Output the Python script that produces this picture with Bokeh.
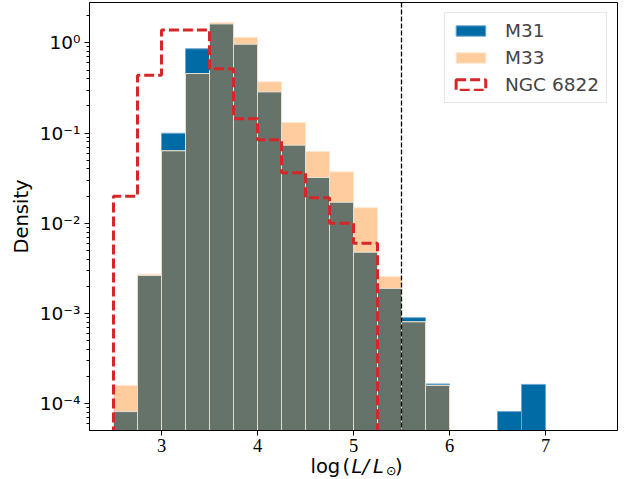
import numpy as np
from bokeh.plotting import figure
from bokeh.layouts import column
from bokeh.models import (ColumnDataSource, Range1d, FixedTicker,
                          CustomJSTickFormatter, Span, Label, LabelSet)
from bokeh.embed import file_html
from bokeh.resources import INLINE

# ---- data ----
bin_edges = [2.5, 2.75, 3.0, 3.25, 3.5, 3.75, 4.0, 4.25, 4.5, 4.75, 5.0,
             5.25, 5.5, 5.75, 6.0, 6.25, 6.5, 6.75, 7.0, 7.25, 7.5]
m31 = [8.2e-5, 0.00264, 0.0996, 0.86, 1.62, 0.965, 0.286, 0.0734, 0.0322,
       0.0171, 0.00478, 0.0019, 0.00090, 1.66e-4, 0, 0, 8.2e-5, 1.64e-4, 0, 0]
m33 = [1.6e-4, 0.00273, 0.0636, 0.457, 1.68, 1.15, 0.370, 0.131, 0.0625,
       0.0372, 0.0149, 0.00257, 0.00081, 1.6e-4, 0, 0, 0, 0, 0, 0]
ngc6822 = [0.0200, 0.438, 1.39, 1.39, 0.515, 0.144, 0.0842, 0.0363, 0.0192,
           0.0100, 0.0060, 0, 0, 0, 0, 0, 0, 0, 0, 0]
x_ticks = [3, 4, 5, 6, 7]
x_tick_labels = ["3", "4", "5", "6", "7"]
y_ticks = [1e-4, 1e-3, 1e-2, 1e-1, 1e0]
limit_line = 5.5

FONT = "DejaVu Sans"
BLUE = "#006BA4"
ORANGE = "#FFCC9E"
OVERLAP = "#65736A"
RED = "#D62728"

edges = np.array(bin_edges)
left, right = edges[:-1], edges[1:]
a31, a33, angc = np.array(m31), np.array(m33), np.array(ngc6822)
FLOOR = 1e-7

def bars(vals):
    mask = vals > 0
    return ColumnDataSource(dict(left=left[mask], right=right[mask],
                                 top=vals[mask],
                                 bottom=np.full(mask.sum(), FLOOR)))

both = (a31 > 0) & (a33 > 0)
overlap_vals = np.where(both, np.minimum(a31, a33), 0)

xr = Range1d(2.25, 7.75)
p = figure(width=632, height=436, y_axis_type="log",
           x_range=xr, y_range=Range1d(5.06e-5, 2.80),
           output_backend="svg", toolbar_location=None, title=None,
           min_border_left=89, min_border_right=15,
           min_border_top=2, min_border_bottom=6)
p.background_fill_color = "white"
p.border_fill_color = "white"
p.outline_line_color = "black"
p.outline_line_width = 1
p.xgrid.visible = False
p.ygrid.visible = False

p.quad(left="left", right="right", top="top", bottom="bottom", source=bars(a31),
       fill_color=BLUE, line_color="#6FA6D2", line_width=1, legend_label="M31")
p.quad(left="left", right="right", top="top", bottom="bottom", source=bars(a33),
       fill_color=ORANGE, line_color="#FFE6CE", line_width=1, legend_label="M33")
p.quad(left="left", right="right", top="top", bottom="bottom", source=bars(overlap_vals),
       fill_color=OVERLAP, line_color="#E4DED0", line_width=1)

# NGC 6822 step outline
nz = np.where(angc > 0)[0]
xs = [left[nz[0]]]
ys = [FLOOR]
for i in nz:
    xs += [left[i], right[i]]
    ys += [angc[i], angc[i]]
xs.append(right[nz[-1]])
ys.append(FLOOR)
p.patch(x=xs, y=ys, fill_alpha=0, line_color=RED, line_width=3,
        line_dash="10 4", legend_label="NGC 6822")

p.add_layout(Span(location=limit_line, dimension="height", line_color="black",
                  line_dash="5 2", line_width=1.3))

# axes
p.xaxis.ticker = FixedTicker(ticks=x_ticks, minor_ticks=[])
minor = [m * 10.0**k for k in range(-5, 1) for m in range(2, 10)]
p.yaxis.ticker = FixedTicker(ticks=y_ticks, minor_ticks=minor)
p.yaxis.formatter = CustomJSTickFormatter(code="""
const e = Math.round(Math.log10(tick));
const sup = {"-":"\u207b","0":"\u2070","1":"\u00b9","2":"\u00b2","3":"\u00b3",
             "4":"\u2074","5":"\u2075","6":"\u2076","7":"\u2077","8":"\u2078","9":"\u2079"};
return "10" + String(e).split("").map(c => sup[c]).join("");
""")
for ax in (p.xaxis[0], p.yaxis[0]):
    ax.major_label_text_font = FONT
    ax.major_label_text_font_size = "18.5px"
    ax.major_label_text_color = "black"
    ax.axis_line_color = "black"
    ax.axis_line_width = 1
    ax.major_tick_out = 5
    ax.major_tick_in = 0
    ax.minor_tick_out = 3
    ax.minor_tick_in = 0
    ax.major_tick_line_color = "black"
    ax.minor_tick_line_color = "black"
    ax.axis_label_text_font = FONT
    ax.axis_label_text_font_size = "19.5px"
    ax.axis_label_text_font_style = "normal"
    ax.axis_label_text_color = "black"
# x tick labels are drawn in the strip below (with the composed axis label)
p.xaxis.formatter = CustomJSTickFormatter(code="return '';")
p.xaxis.major_label_standoff = 0
p.yaxis.major_label_standoff = 4
p.yaxis.axis_label = "Density"
p.yaxis.axis_label_standoff = 4

leg = p.legend[0]
leg.location = "top_right"
leg.margin = 10
leg.padding = 7
leg.spacing = 6
leg.glyph_width = 37
leg.glyph_height = 13
leg.label_height = 21
leg.label_standoff = 16
leg.label_text_font = FONT
leg.label_text_font_size = "18.5px"
leg.border_line_color = "#CCCCCC"
leg.border_line_width = 1
leg.background_fill_alpha = 0.8

# strip below: x tick labels + composed x-axis label  log (L/L_sun)
p2 = figure(width=632, height=43, x_range=xr, y_range=Range1d(0, 1),
            x_axis_location=None, y_axis_location=None, title=None,
            output_backend="svg", toolbar_location=None,
            min_border_left=89, min_border_right=15,
            min_border_top=0, min_border_bottom=0)
p2.outline_line_color = None
p2.xgrid.visible = False
p2.ygrid.visible = False
p2.background_fill_color = "white"
p2.border_fill_color = "white"

tick_src = ColumnDataSource(dict(x=x_ticks, y=[28] * len(x_ticks), text=x_tick_labels))
p2.add_layout(LabelSet(x="x", y="y", text="text", source=tick_src,
                       x_units="data", y_units="screen", text_align="center",
                       text_baseline="alphabetic", text_font=FONT,
                       text_font_size="18.5px", text_color="black"))

def lab(txt, x, y, size="19.5px", style="normal"):
    # x: px from the frame's left edge, y: px above the strip's bottom
    p2.add_layout(Label(x=x, y=y, x_units="screen", y_units="screen", text=txt,
                        text_font=FONT, text_font_size=size, text_font_style=style,
                        text_color="black", text_baseline="alphabetic",
                        text_align="left"))

lab("log", 221, 13.5)
lab("(", 253, 13.5)
lab("L", 262, 13.5, style="italic")
lab("/", 273, 13.5, style="italic")
lab("L", 283.5, 13.5, style="italic")
lab("\u2299", 296.5, 9, size="12.5px")
lab(")", 305.5, 13.5)

open("out.html", "w").write(file_html(column(p, p2, spacing=0), INLINE))
